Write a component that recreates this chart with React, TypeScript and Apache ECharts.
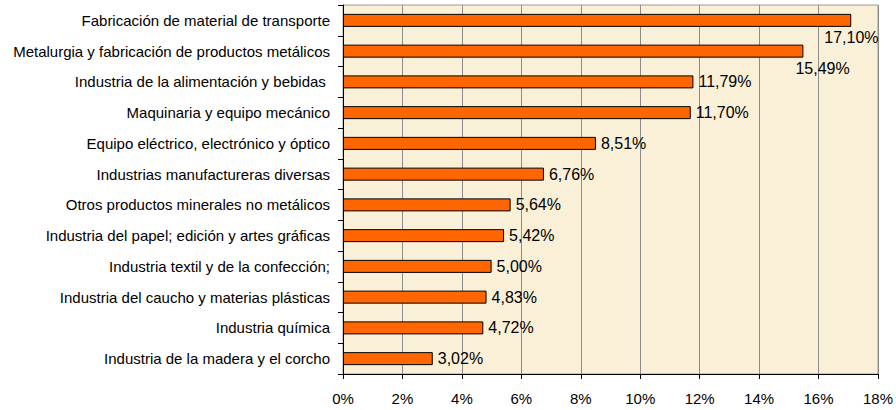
import React, { useEffect, useRef } from "react";
import * as echarts from "echarts";

const categories = [
  "Fabricación de material de transporte",
  "Metalurgia y fabricación de productos metálicos",
  "Industria de la alimentación y bebidas ",
  "Maquinaria y equipo mecánico",
  "Equipo eléctrico, electrónico y óptico",
  "Industrias manufactureras diversas",
  "Otros productos minerales no metálicos",
  "Industria del papel; edición y artes gráficas",
  "Industria textil y de la confección;",
  "Industria del caucho y materias plásticas",
  "Industria química",
  "Industria de la madera y el corcho",
];

const values = [17.1, 15.49, 11.79, 11.7, 8.51, 6.76, 5.64, 5.42, 5.0, 4.83, 4.72, 3.02];

const FONT = "'Liberation Sans', Arial, sans-serif";

export default function App() {
  const ref = useRef<HTMLDivElement>(null);
  useEffect(() => {
    if (!ref.current) return;
    const chart = echarts.init(ref.current, null, { renderer: "svg" });
    const fmt = (v: number) => v.toFixed(2).replace(".", ",") + "%";
    const data = values.map((v, i) => {
      const item: any = { value: v };
      if (i === 0) item.label = { offset: [-32, 17] };
      if (i === 1) item.label = { offset: [-13, 17] };
      return item;
    });
    chart.setOption({
      animation: false,
      backgroundColor: "#ffffff",
      textStyle: { fontFamily: FONT },
      grid: {
        left: 343,
        right: 18,
        top: 5,
        bottom: 36,
        show: true,
        backgroundColor: "#FAEFD7",
        borderColor: "#9a9a9a",
        borderWidth: 1,
      },
      xAxis: {
        type: "value",
        min: 0,
        max: 18,
        interval: 2,
        axisLine: { show: true, lineStyle: { color: "#000", width: 1 } },
        axisTick: { show: true, length: 5, lineStyle: { color: "#000" } },
        axisLabel: {
          formatter: "{value}%",
          color: "#000",
          fontSize: 15,
          fontFamily: FONT,
          margin: 17,
        },
        splitLine: { show: true, lineStyle: { color: "#8c8c8c", width: 1 } },
      },
      yAxis: {
        type: "category",
        data: categories,
        inverse: true,
        axisLine: { show: true, lineStyle: { color: "#000", width: 1 } },
        axisTick: { show: true, length: 5, alignWithLabel: false, lineStyle: { color: "#000" } },
        axisLabel: {
          color: "#000",
          fontSize: 15,
          fontFamily: FONT,
          margin: 13,
        },
        splitLine: { show: false },
      },
      series: [
        {
          type: "bar",
          data,
          barWidth: 13,
          itemStyle: { color: "#FF6600", borderColor: "#000", borderWidth: 1 },
          label: {
            show: true,
            position: "right",
            distance: 5,
            color: "#000",
            fontSize: 16,
            fontFamily: FONT,
            formatter: (p: any) => fmt(p.value),
          },
        },
      ],
    });
    return () => chart.dispose();
  }, []);
  return (
    <div
      ref={ref}
      style={{ position: "absolute", left: 0, top: 0, width: 896, height: 410 }}
    />
  );
}
